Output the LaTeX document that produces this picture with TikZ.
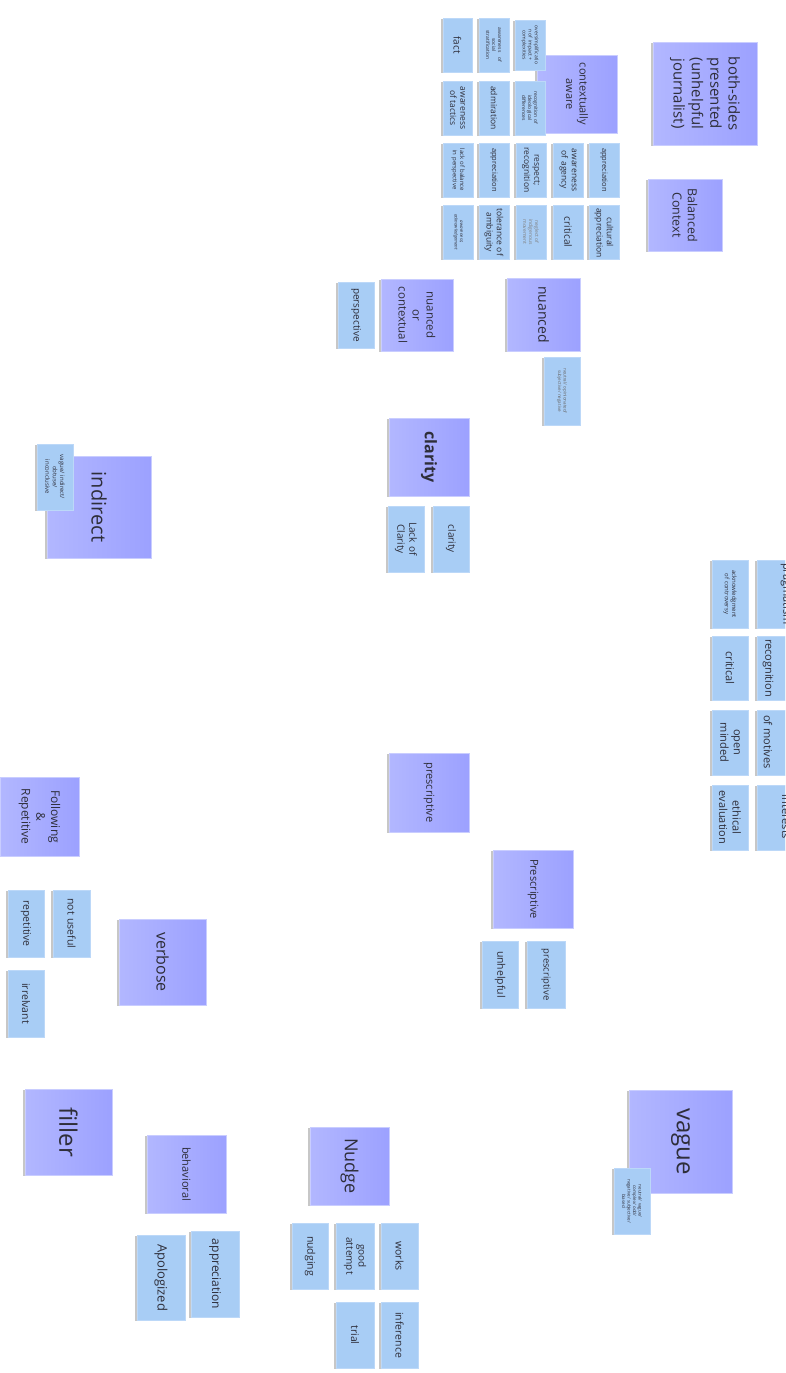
\documentclass[tikz,border=0pt]{standalone}
\usepackage{fontspec}
\setmainfont{Open Sans}
\usetikzlibrary{shadows}
\definecolor{pdark}{HTML}{9CA1FF}
\definecolor{plight}{HTML}{B2B7FF}
\definecolor{bfill}{HTML}{A8CDF5}
\definecolor{bedge}{HTML}{BCD8F8}
\definecolor{ink}{HTML}{2E2E3A}
\tikzset{
  sticky/.style={rotate=-90, inner sep=3pt, align=center, text=ink,
    drop shadow={shadow xshift=-2.5pt, shadow yshift=-1pt, opacity=0.22, fill=black}},
  pnote/.style={sticky, draw=plight!70!white, line width=0.6pt, left color=plight, right color=pdark},
  bnote/.style={sticky, draw=bedge, line width=0.6pt, fill=bfill},
  edgetext/.style={rotate=-90, text=ink, inner sep=0pt, font=\fontsize{11}{13}\selectfont}
}
\newcommand\stk[8]{%
  \pgfmathsetmacro\stkW{#5-#3}%
  \pgfmathsetmacro\stkH{#4-#2}%
  \pgfmathsetmacro\stkT{#5-#3-6}%
  \pgfmathsetmacro\stkX{(#2+#4)/2}%
  \pgfmathsetmacro\stkY{-(#3+#5)/2}%
  \pgfmathsetmacro\stkB{#7*1.22}%
  \node[#6, minimum width=\stkW pt, minimum height=\stkH pt, text width=\stkT pt,
        font={\fontsize{#7pt}{\stkB pt}\selectfont}] (#1) at (\stkX pt,\stkY pt) {#8};%
}
\begin{document}
\begin{tikzpicture}[x=1pt,y=1pt]
\useasboundingbox (0,0) rectangle (785,-1373);
\clip (0,0) rectangle (785,-1373);
\fill[white] (0,0) rectangle (785,-1373);
% ---- purple headers ----
\stk{bothsides}{653}{42}{757}{145}{pnote}{15}{both-sides\\presented\\(unhelpful\\journalist)}
\stk{balanced}{648}{179}{722}{251}{pnote}{12.5}{Balanced\\Context}
\stk{ctxaware}{537}{55}{617}{133}{pnote}{11}{contextually\\aware}
\stk{nuanced}{507}{278}{580}{351}{pnote}{14}{nuanced}
\stk{nuancedor}{381}{279}{453}{351}{pnote}{11.5}{nuanced\\or\\contextual}
\stk{clarityP}{389}{418}{469}{496}{pnote}{16}{\bfseries clarity}
\stk{indirect}{47}{456}{151}{558}{pnote}{20}{indirect}
\stk{prescrA}{389}{753}{469}{832}{pnote}{11}{prescriptive}
\stk{prescrB}{493}{850}{573}{928}{pnote}{11}{Prescriptive}
\stk{following}{0}{777}{79}{856}{pnote}{12}{Following\\\&\\Repetitive}
\stk{verbose}{119}{919}{206}{1005}{pnote}{16}{verbose}
\stk{filler}{25}{1089}{112}{1175}{pnote}{24}{filler}
\stk{behavioral}{147}{1135}{226}{1213}{pnote}{11}{behavioral}
\stk{nudge}{310}{1127}{389}{1205}{pnote}{18}{Nudge}
\stk{vague}{629}{1090}{732}{1193}{pnote}{24}{vague}
% ---- top cluster ----
\stk{fact}{443}{18}{472}{72}{bnote}{10}{fact}
\stk{awsocial}{479}{18}{509}{72}{bnote}{5}{awareness\quad of\\social\\stratification}
\stk{oversimp}{515}{20}{545}{70}{bnote}{5}{oversimplificatio\\n of impact +\\complexities}
\stk{awtactics}{443}{81}{472}{135}{bnote}{8.5}{awareness\\of tactics}
\stk{admiration}{479}{81}{509}{135}{bnote}{8.5}{admiration}
\stk{recideo}{515}{81}{545}{135}{bnote}{5}{recognition of\\ideological\\differences}
\stk{apprA}{589}{143}{619}{197}{bnote}{7.5}{appreciation}
\stk{awagency}{553}{143}{583}{197}{bnote}{8.5}{awareness\\of agency}
\stk{respect}{516}{143}{546}{197}{bnote}{8.5}{respect;\\recognition}
\stk{apprB}{479}{143}{509}{197}{bnote}{7.5}{appreciation}
\stk{lackbal}{443}{143}{473}{197}{bnote}{6}{lack of balance\\in perspective}
\stk{cultural}{589}{205}{619}{259}{bnote}{8.5}{cultural\\appreciation}
\stk{criticalA}{553}{205}{583}{259}{bnote}{10}{critical}
\stk{neglect}{516}{205}{546}{259}{bnote, text=gray}{5}{neglect of\\indigenous\\movement}
\stk{tolerance}{479}{205}{509}{259}{bnote}{8.5}{tolerance of\\ambiguity}
\stk{awack}{443}{205}{473}{259}{bnote}{4.5}{\itshape awareness;\\\itshape acknowledgement}
% ---- middle ----
\stk{perspective}{338}{282}{374}{348}{bnote}{10}{perspective}
\stk{neutralA}{544}{357}{580}{425}{bnote, text=gray!80!black}{4.5}{neutral/ opinionated/\\subjective/ negative}
\stk{vagueind}{37}{444}{73}{510}{bnote}{6}{vague/ indirect/\\obtuse/\\inconclusive}
\stk{clarityB}{433}{506}{469}{572}{bnote}{10}{clarity}
\stk{lackclarity}{388}{506}{424}{572}{bnote}{10}{Lack of\\Clarity}
% ---- right edge cluster ----
\stk{ackcontro}{712}{560}{748}{628}{bnote}{6}{acknowledgment\\of controversy}
\stk{criticalB}{712}{636}{748}{700}{bnote}{11}{critical}
\stk{openminded}{712}{710}{748}{775}{bnote}{11}{open\\minded}
\stk{ethical}{712}{785}{748}{850}{bnote}{11}{ethical\\evaluation}
\stk{edgeA}{757}{560}{800}{628}{bnote}{11}{}
\stk{edgeB}{757}{636}{800}{700}{bnote}{11}{}
\stk{edgeC}{757}{710}{800}{775}{bnote}{11}{}
\stk{edgeD}{757}{785}{800}{850}{bnote}{11}{}
\node[edgetext] (edgeAt) at (786,-594) {pragmatism};
\node[edgetext] (edgeBt) at (768,-668) {recognition};
\node[edgetext] (edgeCt) at (768,-742) {of motives};
\node[edgetext] (edgeDt) at (786,-817) {interests};
% ---- lower ----
\stk{notuseful}{53}{890}{90}{957}{bnote}{10.5}{not useful}
\stk{repetitive}{8}{890}{44}{957}{bnote}{10.5}{repetitive}
\stk{irrelvant}{8}{970}{44}{1037}{bnote}{10.5}{irrelvant}
\stk{prescrC}{527}{941}{565}{1008}{bnote}{9.5}{prescriptive}
\stk{unhelpful}{482}{941}{518}{1008}{bnote}{10.5}{unhelpful}
\stk{neutralB}{614}{1168}{650}{1234}{bnote}{4.5}{neutral/ vague/\\complex/ odd/\\negative/ subjective/\\biased}
\stk{apprC}{191}{1231}{239}{1317}{bnote}{12}{appreciation}
\stk{apologized}{137}{1235}{185}{1320}{bnote}{13}{Apologized}
\stk{works}{381}{1223}{418}{1289}{bnote}{10.5}{works}
\stk{goodattempt}{336}{1223}{374}{1289}{bnote}{10}{good\\attempt}
\stk{nudging}{292}{1223}{328}{1289}{bnote}{10.5}{nudging}
\stk{inference}{381}{1302}{418}{1368}{bnote}{10.5}{inference}
\stk{trial}{336}{1302}{374}{1368}{bnote}{10.5}{trial}
\end{tikzpicture}
\end{document}
